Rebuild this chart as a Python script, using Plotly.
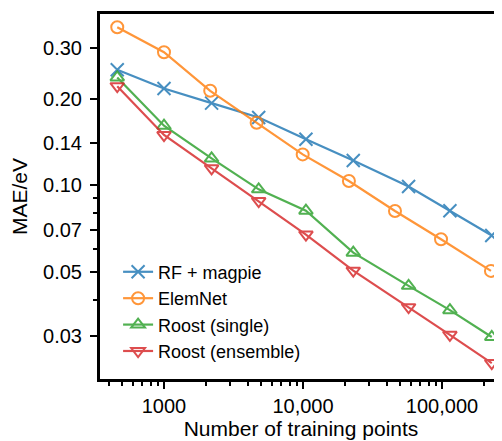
import plotly.graph_objects as go
import numpy as np

# training set sizes
x_common = [461, 1000, 2200, 4800, 10500, 23000, 57500, 114000, 228000]
x_elemnet = [461, 1000, 2150, 4640, 9950, 21400, 45900, 98400, 225000]

# MAE values (eV)
mae_rf = [0.252, 0.217, 0.193, 0.172, 0.1445, 0.122, 0.099, 0.0816, 0.0669]
mae_elemnet = [0.354, 0.290, 0.213, 0.165, 0.128, 0.1035, 0.0814, 0.0649, 0.0504]
mae_roost_single = [0.237, 0.161, 0.124, 0.0968, 0.0816, 0.0583, 0.0447, 0.0368, 0.0297]
mae_roost_ens = [0.221, 0.1495, 0.1145, 0.0881, 0.0674, 0.0505, 0.0377, 0.0302, 0.0241]

names = ["RF + magpie", "ElemNet", "Roost (single)", "Roost (ensemble)"]
colors = ["#1f77b4", "#ff7f0e", "#2ca02c", "#d62728"]
symbols = ["x-thin-open", "circle-open", "triangle-up-open", "triangle-down-open"]

y_major = [0.03, 0.05, 0.07, 0.10, 0.14, 0.20, 0.30]
y_major_text = ["0.03", "0.05", "0.07", "0.10", "0.14", "0.20", "0.30"]
y_minor = [0.04, 0.06, 0.08, 0.09, 0.4]
x_major = [1000, 10000, 100000]
x_major_text = ["1000", "10,000", "100,000"]
x_minor = [400, 500, 600, 700, 800, 900,
           2000, 3000, 4000, 5000, 6000, 7000, 8000, 9000,
           20000, 30000, 40000, 50000, 60000, 70000, 80000, 90000,
           200000]

series = [(x_common, mae_rf), (x_elemnet, mae_elemnet),
          (x_common, mae_roost_single), (x_common, mae_roost_ens)]

font = "Liberation Sans, Arial, Helvetica, sans-serif"

fig = go.Figure()
for i, ((xs, ys), name, c, s) in enumerate(zip(series, names, colors, symbols)):
    fig.add_trace(go.Scatter(
        x=xs, y=ys, name=name, mode="lines+markers",
        opacity=0.82,
        line=dict(color=c, width=2.2),
        marker=dict(symbol=s, size=12 if i != 0 else 13, color=c,
                    line=dict(color=c, width=2)),
    ))

fig.update_layout(
    width=494, height=433,
    margin=dict(l=92, r=0, t=6, b=62),
    paper_bgcolor="white", plot_bgcolor="white",
    font=dict(family=font, size=20, color="black"),
    showlegend=True,
    legend=dict(x=0.045, y=0.3436, xanchor="left", yanchor="top",
                font=dict(size=18), bgcolor="rgba(0,0,0,0)",
                itemwidth=30),
)
fig.update_xaxes(
    type="log", range=[2.5396, 5.4317],
    showgrid=False, zeroline=False,
    showline=True, linecolor="black", linewidth=3, mirror=True,
    ticks="outside", ticklen=7, tickwidth=2, tickcolor="black",
    tickmode="array", tickvals=x_major, ticktext=x_major_text,
    tickfont=dict(size=20),
    minor=dict(tickmode="array", tickvals=x_minor, ticks="outside",
               ticklen=4, tickwidth=2, tickcolor="black", showgrid=False),
    title=dict(text="Number of training points", font=dict(size=21), standoff=4),
)
fig.update_yaxes(
    type="log", range=[-1.67338, -0.4047],
    showgrid=False, zeroline=False,
    showline=True, linecolor="black", linewidth=3, mirror=False,
    ticks="outside", ticklen=7, tickwidth=2, tickcolor="black",
    tickmode="array", tickvals=y_major, ticktext=y_major_text,
    tickfont=dict(size=20), ticklabelstandoff=4,
    minor=dict(tickmode="array", tickvals=y_minor, ticks="outside",
               ticklen=4, tickwidth=2, tickcolor="black", showgrid=False),
    title=dict(text="MAE/eV", font=dict(size=21), standoff=10),
)

fig.write_html("out.html")
